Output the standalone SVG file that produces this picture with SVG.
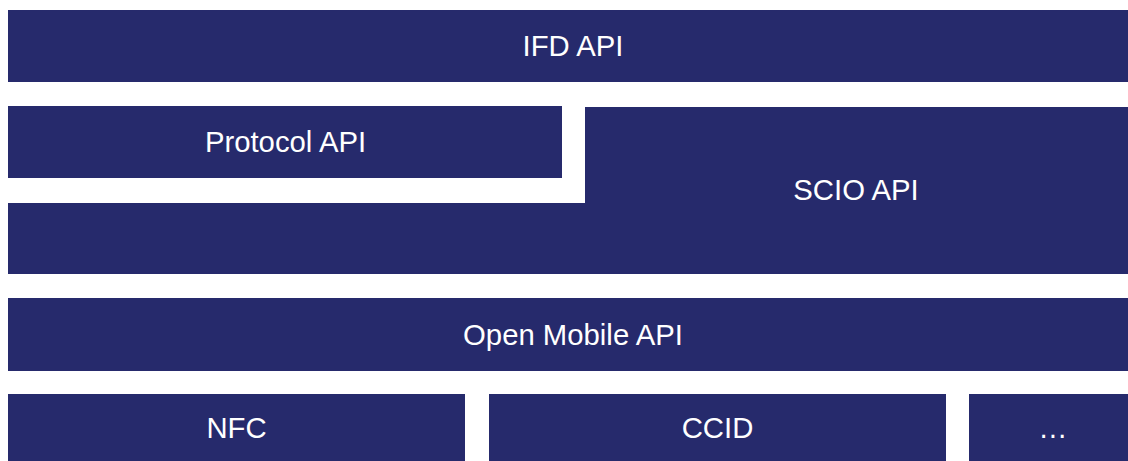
<svg xmlns="http://www.w3.org/2000/svg" width="1128" height="461" viewBox="0 0 1128 461">
  <style>
    .blk { fill: #262a6c; }
    .lbl { fill: #ffffff; font-family: "Liberation Sans", Arial, sans-serif; font-size: 29.3px; text-anchor: middle; }
  </style>
  <rect x="0" y="0" width="1128" height="461" fill="#ffffff"/>
  <g id="ifd-api">
    <rect class="blk" x="8" y="10" width="1120" height="72"/>
    <text class="lbl" x="573" y="56">IFD API</text>
  </g>
  <g id="protocol-api">
    <rect class="blk" x="8" y="106" width="554" height="72"/>
    <text class="lbl" x="285.5" y="152">Protocol API</text>
  </g>
  <g id="scio-api">
    <path class="blk" d="M585,107 H1128 V274 H8 V203 H585 Z"/>
    <text class="lbl" x="856" y="200">SCIO API</text>
  </g>
  <g id="open-mobile-api">
    <rect class="blk" x="8" y="298" width="1120" height="73"/>
    <text class="lbl" x="573" y="345">Open Mobile API</text>
  </g>
  <g id="nfc">
    <rect class="blk" x="8" y="394" width="457" height="67"/>
    <text class="lbl" x="236.5" y="438">NFC</text>
  </g>
  <g id="ccid">
    <rect class="blk" x="489" y="394" width="457" height="67"/>
    <text class="lbl" x="717.5" y="438">CCID</text>
  </g>
  <g id="more">
    <rect class="blk" x="969" y="394" width="159" height="67"/>
    <text class="lbl" x="1053" y="438">…</text>
  </g>
  <g id="connectors"></g>
</svg>
